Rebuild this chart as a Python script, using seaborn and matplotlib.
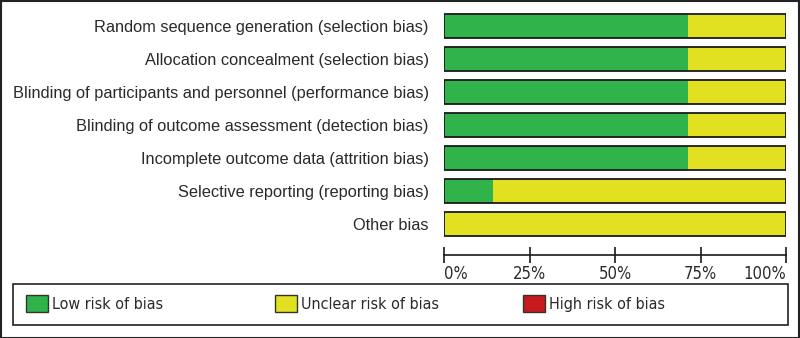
import matplotlib
matplotlib.use("Agg")
import matplotlib.pyplot as plt
import matplotlib.patches as mpatches
import seaborn as sns
import pandas as pd

# Risk of bias domains and percentage of studies (7 studies)
domains = [
    "Random sequence generation (selection bias)",
    "Allocation concealment (selection bias)",
    "Blinding of participants and personnel (performance bias)",
    "Blinding of outcome assessment (detection bias)",
    "Incomplete outcome data (attrition bias)",
    "Selective reporting (reporting bias)",
    "Other bias",
]
low_risk = [71.4, 71.4, 71.4, 71.4, 71.4, 14.3, 0.0]
unclear_risk = [28.6, 28.6, 28.6, 28.6, 28.6, 85.7, 100.0]
high_risk = [0.0, 0.0, 0.0, 0.0, 0.0, 0.0, 0.0]

tick_values = [0, 25, 50, 75, 100]
tick_labels = ["0%", "25%", "50%", "75%", "100%"]
legend_labels = ["Low risk of bias", "Unclear risk of bias", "High risk of bias"]

green = "#2fb34a"
yellow = "#e1e121"
red = "#c8191f"

df = pd.DataFrame({"domain": domains, "low": low_risk,
                   "unclear": unclear_risk, "high": high_risk})
df["cum_unclear"] = df["low"] + df["unclear"]
df["cum_high"] = df["cum_unclear"] + df["high"]
df["total"] = df["cum_high"]

sns.set_theme(style="white")
plt.rcParams["font.family"] = ["Liberation Sans", "DejaVu Sans"]

fig = plt.figure(figsize=(8, 3.38), dpi=100)
ax = fig.add_axes([444 / 800, (338 - 255) / 338, (786 - 444) / 800, (255 - 9.5) / 338])

# stacked bars: draw cumulative totals from the back to the front
sns.barplot(data=df, x="cum_high", y="domain", orient="h", color=red,
            width=0.75, linewidth=0, saturation=1, ax=ax)
sns.barplot(data=df, x="cum_unclear", y="domain", orient="h", color=yellow,
            width=0.75, linewidth=0, saturation=1, ax=ax)
sns.barplot(data=df, x="low", y="domain", orient="h", color=green,
            width=0.75, linewidth=0, saturation=1, ax=ax)
# outline of each whole bar
sns.barplot(data=df, x="total", y="domain", orient="h", fill=False,
            width=0.75, edgecolor="#1a1a1a", linewidth=1.3, ax=ax)

ax.set_xlim(0, 100)
ax.set_ylim(6.94, -0.5)
ax.set_xlabel("")
ax.set_ylabel("")
for side in ["top", "right", "left"]:
    ax.spines[side].set_visible(False)
ax.spines["bottom"].set_color("#1a1a1a")
ax.spines["bottom"].set_linewidth(1.2)

ax.tick_params(axis="y", left=False, length=0, pad=11, labelsize=11.8, labelcolor="#2a2a2a")
ax.set_xticks(tick_values)
ax.set_xticklabels(tick_labels)
ax.tick_params(axis="x", bottom=True, direction="inout", length=11, width=1.2,
               color="#1a1a1a", labelsize=12, labelcolor="#2a2a2a", pad=2)
labels = ax.get_xticklabels()
for t in labels:
    t.set_family("DejaVu Sans")
    t.set_stretch("condensed")
labels[0].set_horizontalalignment("left")
labels[-1].set_horizontalalignment("right")

# outer border of the figure
fig.patches.append(mpatches.Rectangle((0.5 / 800, 0.5 / 338), 798.5 / 800, 336.5 / 338,
                                      transform=fig.transFigure, fill=False,
                                      edgecolor="#222222", linewidth=1.5))
# legend box
fig.patches.append(mpatches.Rectangle((13 / 800, (338 - 325) / 338), 775 / 800, 41 / 338,
                                      transform=fig.transFigure, fill=False,
                                      edgecolor="#222222", linewidth=1.2))

# one legend entry per fixed column, like the RevMan output
legend_x = [26, 275, 523]
for label, c, x in zip(legend_labels, [green, yellow, red], legend_x):
    handle = mpatches.Patch(facecolor=c, edgecolor="#333333", linewidth=1)
    leg = fig.legend([handle], [label], loc="center left",
                     bbox_to_anchor=(x / 800, (338 - 303.5) / 338), frameon=False,
                     handlelength=1.38, handleheight=1.3, handletextpad=0.25,
                     borderaxespad=0, borderpad=0,
                     prop={"family": "DejaVu Sans", "stretch": "condensed", "size": 11.5})
    leg.get_texts()[0].set_color("#2a2a2a")

fig.savefig("out.png", dpi=100)
